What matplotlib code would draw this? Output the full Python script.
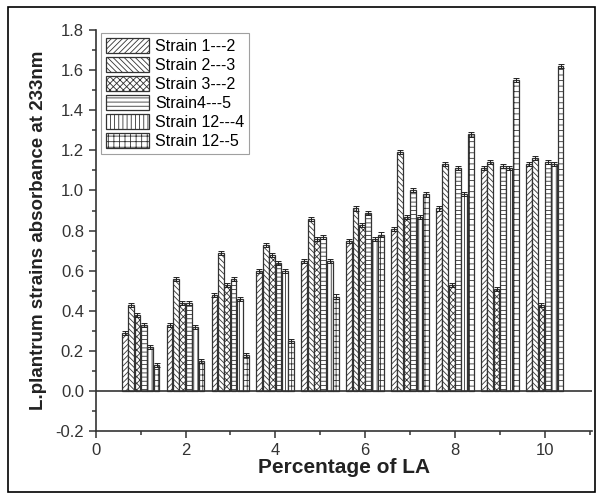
import numpy as np
import matplotlib
matplotlib.use('Agg')
import matplotlib.pyplot as plt
from matplotlib.patches import Rectangle
from matplotlib.ticker import MultipleLocator

plt.rcParams['font.family'] = ['Liberation Sans', 'DejaVu Sans']
plt.rcParams['hatch.linewidth'] = 0.6

# data
percent = [1, 2, 3, 4, 5, 6, 7, 8, 9, 10]
strains = ['Strain 1---2', 'Strain 2---3', 'Strain 3---2',
           'Strain4---5', 'Strain 12---4', 'Strain 12--5']
s1_2 = [0.29, 0.33, 0.48, 0.60, 0.65, 0.75, 0.81, 0.91, 1.11, 1.13]
s2_3 = [0.43, 0.56, 0.69, 0.73, 0.86, 0.91, 1.19, 1.13, 1.14, 1.16]
s3_2 = [0.38, 0.44, 0.53, 0.68, 0.76, 0.83, 0.87, 0.53, 0.51, 0.43]
s4_5 = [0.33, 0.44, 0.56, 0.64, 0.77, 0.89, 1.00, 1.11, 1.12, 1.14]
s12_4 = [0.22, 0.32, 0.46, 0.60, 0.65, 0.76, 0.87, 0.98, 1.11, 1.13]
s12_5 = [0.13, 0.15, 0.18, 0.25, 0.47, 0.78, 0.98, 1.28, 1.55, 1.62]
errs = [0.01, 0.01, 0.01, 0.01, 0.01, 0.012]

series = [s1_2, s2_3, s3_2, s4_5, s12_4, s12_5]
hatches = ['//////', '\\\\\\\\\\\\', 'xxxxx', '----', '||||', '+++']

fig = plt.figure(figsize=(6.02, 4.98), dpi=100)
ax = fig.add_axes([0.159, 0.134, 0.824, 0.806])

x = np.array(percent, dtype=float)
w = 0.13
for i, (vals, lab, h) in enumerate(zip(series, strains, hatches)):
    pos = x + (i - 2.5) * (w + 0.012)
    ax.bar(pos, vals, w, facecolor='white', edgecolor='#333333',
           hatch=h, linewidth=0.9, label=lab)
    ax.errorbar(pos, vals, yerr=errs[i], fmt='none', ecolor='#222222',
                elinewidth=0.7, capsize=2, capthick=0.7)

ax.axhline(0, color='#333333', linewidth=1.2)

ax.set_xlim(0, 11.05)
ax.set_ylim(-0.2, 1.8)
ax.xaxis.set_major_locator(MultipleLocator(2))
ax.xaxis.set_minor_locator(MultipleLocator(1))
ax.yaxis.set_major_locator(MultipleLocator(0.2))
ax.yaxis.set_minor_locator(MultipleLocator(0.1))
ax.yaxis.set_major_formatter(plt.FuncFormatter(lambda v, p: f'{v:.1f}'))

ax.spines['top'].set_visible(False)
ax.spines['right'].set_visible(False)
for s in ['left', 'bottom']:
    ax.spines[s].set_linewidth(1.2)
    ax.spines[s].set_color('#333333')
ax.tick_params(which='major', direction='out', length=5, width=1.1,
               labelsize=12, colors='#333333')
ax.tick_params(which='minor', direction='out', length=3, width=1.1,
               colors='#333333')

ax.set_xlabel('Percentage of LA', fontsize=15, fontweight='bold', labelpad=0,
              color='#222222')
ax.set_ylabel('L.plantrum strains absorbance at 233nm', fontsize=13.5,
              fontweight='bold', labelpad=6, color='#222222')

leg = ax.legend(loc='upper left', bbox_to_anchor=(0.005, 1.0), fontsize=11.5,
                frameon=True, fancybox=False, edgecolor='#888888',
                handlelength=2.7, handleheight=1.05, labelspacing=0.2,
                borderpad=0.3, handletextpad=0.35, borderaxespad=0.2)
leg.get_frame().set_linewidth(0.8)

# outer frame around the figure
fig.patches.append(Rectangle((0.013, 0.012), 0.975, 0.973, transform=fig.transFigure,
                             fill=False, edgecolor='black', linewidth=1.2))

fig.savefig('out.png', dpi=100)
